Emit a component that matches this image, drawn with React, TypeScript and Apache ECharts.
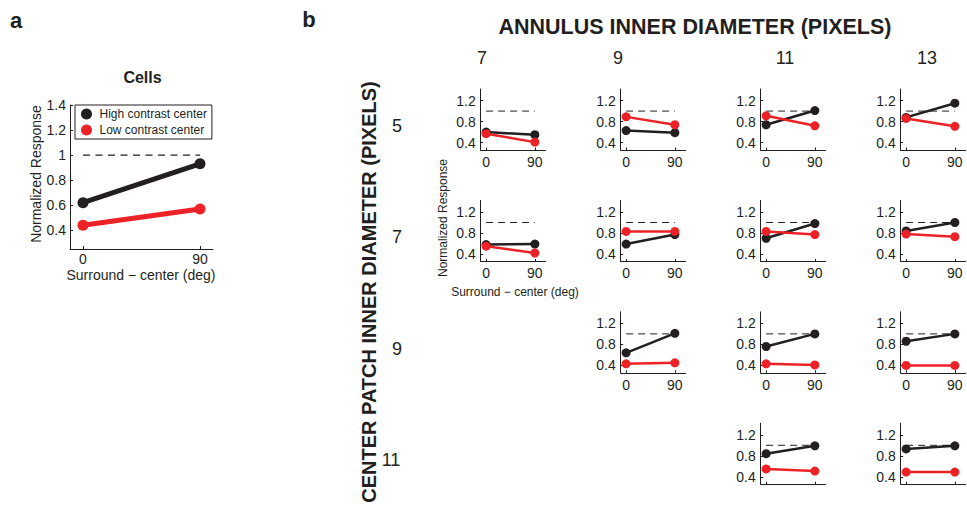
import React, { useEffect, useRef } from "react";
import * as echarts from "echarts";

const offsets = [0, 90];
const annulusDiameters = ["7", "9", "11", "13"];
const centerDiameters = ["5", "7", "9", "11"];

const cellsHigh = [0.62, 0.93];
const cellsLow = [0.44, 0.57];

// rows: center patch diameter, cols: annulus diameter; null = no panel
const highContrast: (number[] | null)[][] = [
  [[0.6, 0.55], [0.63, 0.59], [0.74, 1.01], [0.88, 1.15]],
  [[0.58, 0.59], [0.59, 0.77], [0.7, 0.98], [0.84, 1.0]],
  [null, [0.64, 1.01], [0.76, 1.0], [0.86, 1.0]],
  [null, null, [0.84, 0.99], [0.93, 0.99]],
];
const lowContrast: (number[] | null)[][] = [
  [[0.57, 0.41], [0.89, 0.74], [0.91, 0.72], [0.86, 0.71]],
  [[0.55, 0.42], [0.83, 0.83], [0.83, 0.77], [0.78, 0.73]],
  [null, [0.43, 0.45], [0.43, 0.41], [0.4, 0.4]],
  [null, null, [0.55, 0.51], [0.49, 0.49]],
];

const cellsYTicks = [0.4, 0.6, 0.8, 1, 1.2, 1.4];
const smallYTicks = [0.4, 0.8, 1.2];
const referenceLevel = 1;

const BLACK = "#231f20";
const RED = "#ec2227";
const FONT = "'Liberation Sans', Arial, Helvetica, sans-serif";

function txt(text: string, x: number, y: number, size: number, opts: any = {}) {
  return {
    type: "text",
    x,
    y,
    rotation: opts.rotation || 0,
    silent: true,
    style: {
      text,
      fill: BLACK,
      fontSize: size,
      fontWeight: opts.bold ? "bold" : "normal",
      fontFamily: FONT,
      align: opts.align || "center",
      verticalAlign: "middle",
      textAlign: opts.align || "center",
      textVerticalAlign: "middle",
    },
  };
}

export default function App() {
  const ref = useRef<HTMLDivElement>(null);
  useEffect(() => {
    if (!ref.current) return;
    const chart = echarts.init(ref.current, null, { renderer: "svg" });

    const grids: any[] = [];
    const xAxes: any[] = [];
    const yAxes: any[] = [];
    const series: any[] = [];

    const axisCommon = {
      type: "value",
      splitLine: { show: false },
      axisLine: { show: true, onZero: false, lineStyle: { color: BLACK, width: 1 } },
    };

    // Panel a
    grids.push({ left: 70, top: 105, width: 143, height: 144 });
    xAxes.push({
      ...axisCommon,
      gridIndex: 0,
      min: -10,
      max: 100,
      axisTick: { show: true, inside: true, length: 3, customValues: offsets, lineStyle: { color: BLACK } },
      axisLabel: { show: true, customValues: offsets, fontSize: 14, lineHeight: 14, color: BLACK, fontFamily: FONT, margin: 3 },
    });
    yAxes.push({
      ...axisCommon,
      gridIndex: 0,
      min: 0.25,
      max: 1.4,
      axisTick: { show: true, inside: true, length: 3, customValues: cellsYTicks, lineStyle: { color: BLACK } },
      axisLabel: {
        show: true,
        customValues: cellsYTicks,
        fontSize: 14,
        color: BLACK,
        fontFamily: FONT,
        margin: 4,
        formatter: (v: number) => (Math.abs(v - 1) < 1e-9 ? "1" : v.toFixed(1)),
      },
    });
    series.push({
      type: "line",
      xAxisIndex: 0,
      yAxisIndex: 0,
      data: offsets.map((o) => [o, referenceLevel]),
      symbol: "none",
      lineStyle: { color: BLACK, width: 1.2, type: [7, 5.5] },
      silent: true,
    });
    series.push({
      name: "High contrast center",
      type: "line",
      xAxisIndex: 0,
      yAxisIndex: 0,
      data: offsets.map((o, i) => [o, cellsHigh[i]]),
      symbol: "circle",
      symbolSize: 11,
      itemStyle: { color: BLACK },
      lineStyle: { color: BLACK, width: 5 },
    });
    series.push({
      name: "Low contrast center",
      type: "line",
      xAxisIndex: 0,
      yAxisIndex: 0,
      data: offsets.map((o, i) => [o, cellsLow[i]]),
      symbol: "circle",
      symbolSize: 11,
      itemStyle: { color: RED },
      lineStyle: { color: RED, width: 5 },
    });

    // Panel b small multiples
    centerDiameters.forEach((cd, r) => {
      annulusDiameters.forEach((ad, c) => {
        const hi = highContrast[r][c];
        const lo = lowContrast[r][c];
        if (!hi || !lo) return;
        const gi = grids.length;
        grids.push({ left: 480.7 + 140 * c, top: 89 + 111.4 * r, width: 65, height: 61 });
        xAxes.push({
          ...axisCommon,
          gridIndex: gi,
          min: -10,
          max: 110,
          axisTick: { show: true, inside: true, length: 2.5, customValues: offsets, lineStyle: { color: BLACK } },
          axisLabel: { show: r < 3, customValues: offsets, fontSize: 14, color: BLACK, fontFamily: FONT, margin: 5 },
        });
        yAxes.push({
          ...axisCommon,
          gridIndex: gi,
          min: 0.26,
          max: 1.42,
          axisTick: { show: true, inside: true, length: 2.5, customValues: smallYTicks, lineStyle: { color: BLACK } },
          axisLabel: {
            show: true,
            customValues: smallYTicks,
            fontSize: 14,
            color: BLACK,
            fontFamily: FONT,
            margin: 5,
            formatter: (v: number) => v.toFixed(1),
          },
        });
        series.push({
          type: "line",
          xAxisIndex: gi,
          yAxisIndex: gi,
          data: offsets.map((o) => [o, referenceLevel]),
          symbol: "none",
          lineStyle: { color: BLACK, width: 1, type: [7, 5] },
          silent: true,
        });
        series.push({
          name: `High ${cd}-${ad}`,
          type: "line",
          xAxisIndex: gi,
          yAxisIndex: gi,
          data: offsets.map((o, i) => [o, hi[i]]),
          symbol: "circle",
          symbolSize: 9,
          itemStyle: { color: BLACK },
          lineStyle: { color: BLACK, width: 2.5 },
        });
        series.push({
          name: `Low ${cd}-${ad}`,
          type: "line",
          xAxisIndex: gi,
          yAxisIndex: gi,
          data: offsets.map((o, i) => [o, lo[i]]),
          symbol: "circle",
          symbolSize: 9,
          itemStyle: { color: RED },
          lineStyle: { color: RED, width: 2.5 },
        });
      });
    });

    const graphics: any[] = [
      txt("a", 16, 20, 22, { bold: true }),
      txt("b", 309, 19, 22, { bold: true }),
      txt("Cells", 142.5, 77.5, 16, { bold: true }),
      txt("Normalized Response", 36, 174, 14, { rotation: Math.PI / 2 }),
      txt("Surround \u2212 center (deg)", 141, 275, 14),
      txt("ANNULUS INNER DIAMETER (PIXELS)", 695, 27, 21.5, { bold: true }),
      txt("CENTER PATCH INNER DIAMETER (PIXELS)", 369, 292, 20, { bold: true, rotation: Math.PI / 2 }),
      txt("Normalized Response", 443, 218, 12, { rotation: Math.PI / 2 }),
      txt("Surround \u2212 center (deg)", 515, 292, 12),
    ];
    const colX = [482, 618, 785, 927];
    annulusDiameters.forEach((ad, c) => graphics.push(txt(ad, colX[c], 58, 18)));
    const rowY = [126, 237, 349, 460];
    centerDiameters.forEach((cd, r) => graphics.push(txt(cd, r === 3 ? 391 : 397, rowY[r], 18)));

    chart.setOption({
      animation: false,
      backgroundColor: "#ffffff",
      textStyle: { fontFamily: FONT },
      grid: grids,
      xAxis: xAxes,
      yAxis: yAxes,
      series,
      legend: {
        show: true,
        data: ["High contrast center", "Low contrast center"],
        orient: "vertical",
        left: 75,
        top: 105,
        padding: [3, 5, 3, 6],
        itemWidth: 12,
        itemHeight: 11,
        itemGap: 4,
        icon: "circle",
        textStyle: { fontSize: 12, color: BLACK, fontFamily: FONT, padding: [0, 0, 0, 2] },
        borderColor: BLACK,
        borderWidth: 1,
        borderRadius: 0,
        backgroundColor: "#ffffff",
        selectedMode: false,
      },
      graphic: graphics,
    });
    return () => chart.dispose();
  }, []);
  return (
    <div
      ref={ref}
      style={{ position: "fixed", left: 0, top: 0, width: 967, height: 508, background: "#fff" }}
    />
  );
}
